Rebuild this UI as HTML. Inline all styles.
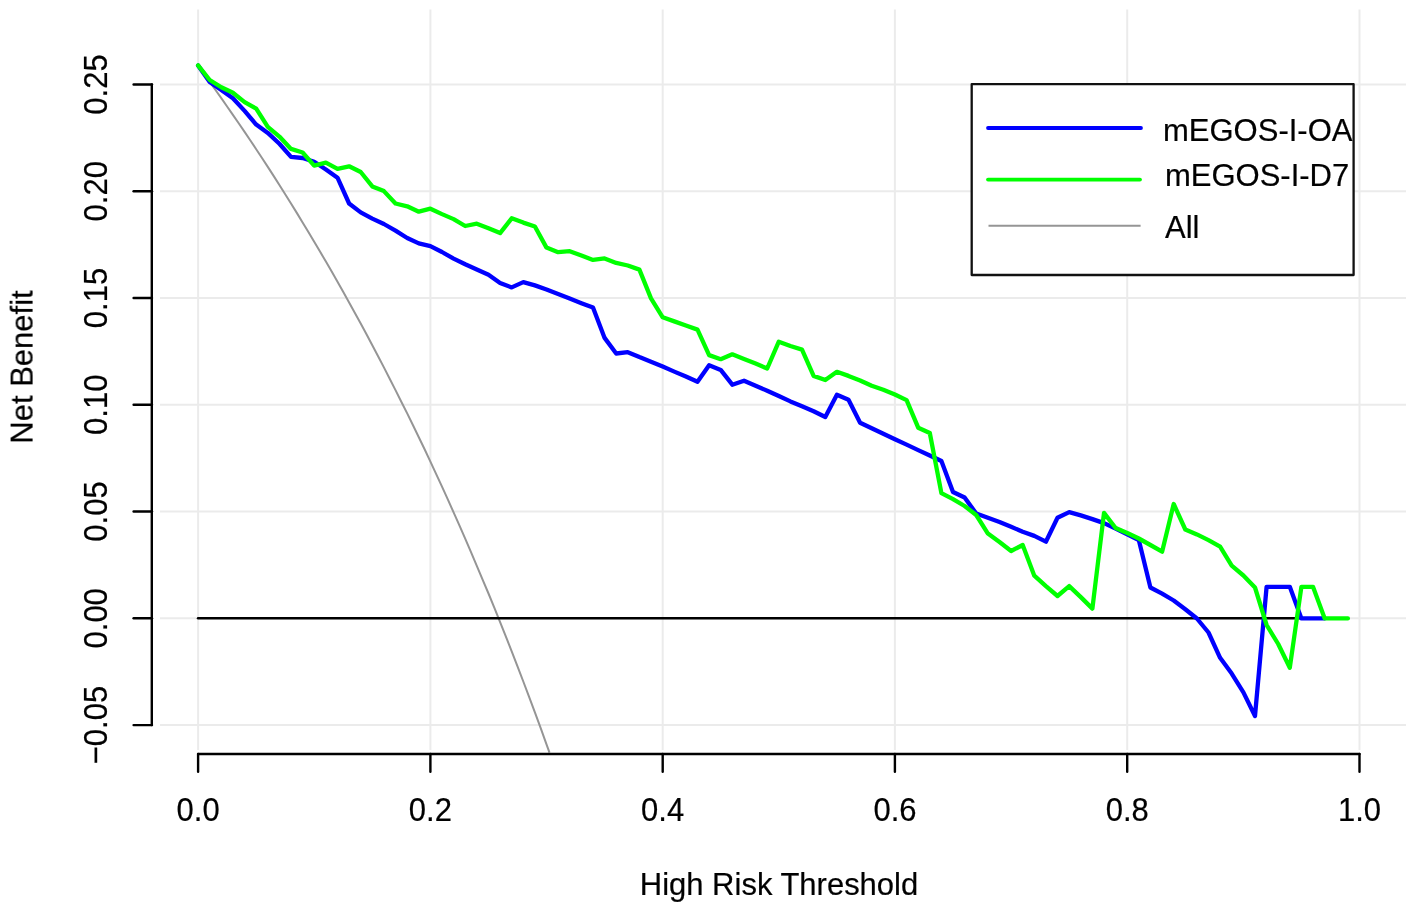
<!DOCTYPE html>
<html><head><meta charset="utf-8"><style>
html,body{margin:0;padding:0;background:#fff;}
svg{display:block;}
text{font-family:"Liberation Sans",sans-serif;font-size:31px;fill:#000;stroke:#000;stroke-width:0.2px;}
</style></head><body>
<svg width="1417" height="912" viewBox="0 0 1417 912">
<rect width="1417" height="912" fill="#fff"/>
<g stroke="#ebebeb" stroke-width="2"><line x1="198.1" y1="9.6" x2="198.1" y2="750" /><line x1="430.4" y1="9.6" x2="430.4" y2="750" /><line x1="662.7" y1="9.6" x2="662.7" y2="750" /><line x1="894.9" y1="9.6" x2="894.9" y2="750" /><line x1="1127.2" y1="9.6" x2="1127.2" y2="750" /><line x1="1359.5" y1="9.6" x2="1359.5" y2="750" /><line x1="160" y1="725.1" x2="1406" y2="725.1" /><line x1="160" y1="618.3" x2="1406" y2="618.3" /><line x1="160" y1="511.5" x2="1406" y2="511.5" /><line x1="160" y1="404.8" x2="1406" y2="404.8" /><line x1="160" y1="298.0" x2="1406" y2="298.0" /><line x1="160" y1="191.2" x2="1406" y2="191.2" /><line x1="160" y1="84.5" x2="1406" y2="84.5" /></g>
<polyline points="198.1,65.9 203.9,73.9 209.7,81.9 215.5,90.0 221.3,98.2 227.1,106.5 232.9,114.9 238.7,123.3 244.6,131.9 250.4,140.5 256.2,149.2 262.0,158.0 267.8,166.9 273.6,175.9 279.4,185.0 285.2,194.2 291.0,203.5 296.8,212.9 302.6,222.4 308.4,232.1 314.2,241.8 320.0,251.6 325.9,261.5 331.7,271.6 337.5,281.7 343.3,292.0 349.1,302.4 354.9,312.9 360.7,323.6 366.5,334.3 372.3,345.2 378.1,356.3 383.9,367.4 389.7,378.7 395.5,390.1 401.3,401.7 407.2,413.4 413.0,425.2 418.8,437.2 424.6,449.3 430.4,461.6 436.2,474.1 442.0,486.7 447.8,499.4 453.6,512.4 459.4,525.4 465.2,538.7 471.0,552.1 476.8,565.8 482.6,579.6 488.5,593.5 494.3,607.7 500.1,622.1 505.9,636.6 511.7,651.4 517.5,666.3 523.3,681.5 529.1,696.8 534.9,712.4 540.7,728.2 546.5,744.3 549.5,752.7" fill="none" stroke="#959595" stroke-width="2"/>
<line x1="198.1" y1="618.3" x2="1347.9" y2="618.3" stroke="#000" stroke-width="2.6" stroke-linecap="round"/>
<polyline points="198.1,65.4 209.7,81.9 221.3,89.9 232.9,98.3 244.6,110.9 256.2,124.6 267.8,132.9 279.4,143.8 291.0,156.9 302.6,158.0 314.2,161.8 325.9,169.5 337.5,177.7 349.1,203.5 360.7,212.4 372.3,218.6 383.9,224.0 395.5,230.6 407.2,238.0 418.8,243.4 430.4,246.2 442.0,252.0 453.6,258.6 465.2,264.3 476.8,269.5 488.5,274.7 500.1,282.9 511.7,287.4 523.3,282.1 534.9,285.4 546.5,289.5 558.1,294.0 569.7,298.6 581.4,303.2 593.0,307.6 604.6,337.9 616.2,353.5 627.8,352.2 639.4,357.1 651.0,361.7 662.7,366.6 674.3,371.6 685.9,376.5 697.5,381.8 709.1,365.3 720.7,369.9 732.3,384.7 744.0,380.7 755.6,385.8 767.2,390.7 778.8,396.0 790.4,401.4 802.0,406.3 813.6,411.3 825.3,417.0 836.9,394.8 848.5,399.8 860.1,422.8 871.7,428.3 883.3,433.7 894.9,439.2 906.6,444.6 918.2,450.1 929.8,455.5 941.4,461.0 953.0,492.0 964.6,497.5 976.2,513.5 987.9,517.8 999.5,522.0 1011.1,526.8 1022.7,531.8 1034.3,535.9 1045.9,541.7 1057.5,517.8 1069.2,512.1 1080.8,515.4 1092.4,519.1 1104.0,523.1 1115.6,528.5 1127.2,534.3 1138.8,540.1 1150.4,587.5 1162.1,593.6 1173.7,600.5 1185.3,609.2 1196.9,618.5 1208.5,632.5 1220.1,657.8 1231.7,673.6 1243.4,692.4 1255.0,716.0 1266.6,586.8 1278.2,586.8 1289.8,586.8 1301.4,618.4 1313.0,618.4 1324.7,618.4" fill="none" stroke="#0000ff" stroke-width="4.3" stroke-linejoin="round" stroke-linecap="round"/>
<polyline points="198.1,65.4 209.7,80.0 221.3,87.3 232.9,92.8 244.6,102.1 256.2,108.7 267.8,126.8 279.4,136.6 291.0,148.9 302.6,152.5 314.2,165.6 325.9,162.7 337.5,168.9 349.1,166.3 360.7,172.0 372.3,186.4 383.9,191.1 395.5,203.5 407.2,206.3 418.8,211.7 430.4,208.7 442.0,214.1 453.6,219.1 465.2,226.0 476.8,223.7 488.5,228.2 500.1,233.1 511.7,218.3 523.3,222.6 534.9,226.5 546.5,247.6 558.1,252.2 569.7,251.2 581.4,255.5 593.0,259.9 604.6,258.4 616.2,262.9 627.8,265.5 639.4,269.6 651.0,298.4 662.7,317.3 674.3,321.4 685.9,325.5 697.5,329.6 709.1,355.1 720.7,359.2 732.3,354.3 744.0,358.9 755.6,363.6 767.2,368.5 778.8,341.7 790.4,346.0 802.0,349.6 813.6,375.9 825.3,380.0 836.9,371.8 848.5,375.9 860.1,380.5 871.7,385.8 883.3,389.8 894.9,394.5 906.6,400.1 918.2,427.7 929.8,433.0 941.4,493.1 953.0,499.1 964.6,506.0 976.2,515.0 987.9,533.6 999.5,542.0 1011.1,551.0 1022.7,545.0 1034.3,575.7 1045.9,586.1 1057.5,596.0 1069.2,586.1 1080.8,597.1 1092.4,608.6 1104.0,512.9 1115.6,528.0 1127.2,533.0 1138.8,538.5 1150.4,545.0 1162.1,551.7 1173.7,504.0 1185.3,529.5 1196.9,534.4 1208.5,540.2 1220.1,546.7 1231.7,565.7 1243.4,575.5 1255.0,587.5 1266.6,625.0 1278.2,644.0 1289.8,667.7 1301.4,586.8 1313.0,586.8 1324.7,618.4 1336.3,618.4 1347.9,618.4" fill="none" stroke="#00ff00" stroke-width="4.3" stroke-linejoin="round" stroke-linecap="round"/>
<g stroke="#000" stroke-width="2.4" fill="none" stroke-linecap="round" stroke-linejoin="round">
<line x1="151.8" y1="84.5" x2="151.8" y2="725.1" /><line x1="133.6" y1="725.1" x2="152" y2="725.1" /><line x1="133.6" y1="618.3" x2="152" y2="618.3" /><line x1="133.6" y1="511.5" x2="152" y2="511.5" /><line x1="133.6" y1="404.8" x2="152" y2="404.8" /><line x1="133.6" y1="298.0" x2="152" y2="298.0" /><line x1="133.6" y1="191.2" x2="152" y2="191.2" /><line x1="133.6" y1="84.5" x2="152" y2="84.5" />
<line x1="198.1" y1="754" x2="1359.5" y2="754" /><line x1="198.1" y1="754" x2="198.1" y2="771.7" /><line x1="430.4" y1="754" x2="430.4" y2="771.7" /><line x1="662.7" y1="754" x2="662.7" y2="771.7" /><line x1="894.9" y1="754" x2="894.9" y2="771.7" /><line x1="1127.2" y1="754" x2="1127.2" y2="771.7" /><line x1="1359.5" y1="754" x2="1359.5" y2="771.7" />
</g>

<rect x="971.7" y="84.2" width="381.9" height="190.8" fill="#fff" stroke="#111" stroke-width="2.3" stroke-linejoin="round"/>
<line x1="988" y1="128" x2="1141" y2="128" stroke="#0000ff" stroke-width="3.8" stroke-linecap="round"/>
<line x1="988" y1="179.6" x2="1140" y2="179.6" stroke="#00ff00" stroke-width="3.8" stroke-linecap="round"/>
<line x1="988.5" y1="225.7" x2="1140.6" y2="225.7" stroke="#959595" stroke-width="2"/>

<g opacity="0.999"><text transform="translate(107.30,725.06) rotate(-90) scale(1.0,1.08)" text-anchor="middle">−0.05</text><text transform="translate(107.30,618.30) rotate(-90) scale(1.0,1.08)" text-anchor="middle">0.00</text><text transform="translate(107.30,511.53) rotate(-90) scale(1.0,1.08)" text-anchor="middle">0.05</text><text transform="translate(107.30,404.77) rotate(-90) scale(1.0,1.08)" text-anchor="middle">0.10</text><text transform="translate(107.30,298.00) rotate(-90) scale(1.0,1.08)" text-anchor="middle">0.15</text><text transform="translate(107.30,191.24) rotate(-90) scale(1.0,1.08)" text-anchor="middle">0.20</text><text transform="translate(107.30,84.47) rotate(-90) scale(1.0,1.08)" text-anchor="middle">0.25</text><text transform="translate(198.10,820.60) scale(1.0,1.08)" text-anchor="middle">0.0</text><text transform="translate(430.38,820.60) scale(1.0,1.08)" text-anchor="middle">0.2</text><text transform="translate(662.66,820.60) scale(1.0,1.08)" text-anchor="middle">0.4</text><text transform="translate(894.94,820.60) scale(1.0,1.08)" text-anchor="middle">0.6</text><text transform="translate(1127.22,820.60) scale(1.0,1.08)" text-anchor="middle">0.8</text><text transform="translate(1359.50,820.60) scale(1.0,1.08)" text-anchor="middle">1.0</text><text transform="translate(779.00,894.70) scale(1.0,1.03)" text-anchor="middle">High Risk Threshold</text><text transform="translate(32.60,367.00) rotate(-90)" text-anchor="middle">Net Benefit</text><text transform="translate(1163.00,140.70)" text-anchor="start">mEGOS-I-OA</text><text transform="translate(1164.90,186.20)" text-anchor="start">mEGOS-I-D7</text><text transform="translate(1165.00,238.00)" text-anchor="start">All</text></g>
</svg>
</body></html>
